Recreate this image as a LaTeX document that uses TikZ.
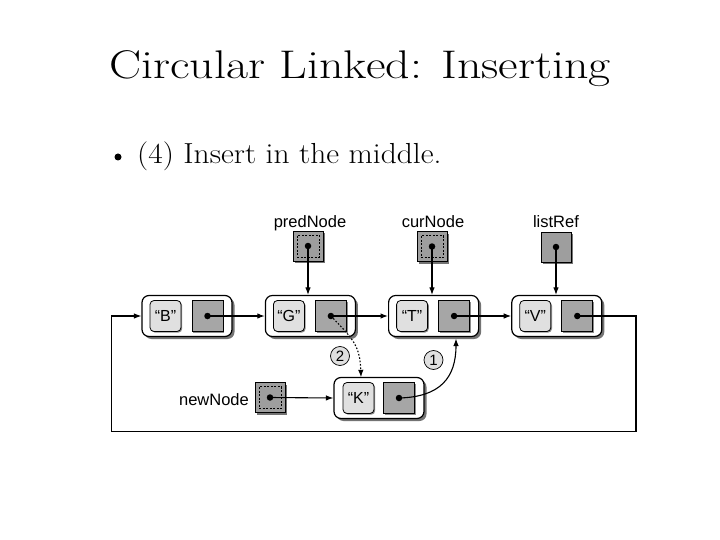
\documentclass[tikz,border=0pt]{standalone}
\usepackage{fontspec}
\newfontfamily\lsans{Liberation Sans}
\usetikzlibrary{shadows,arrows.meta}
\begin{document}
\begin{tikzpicture}[x=1pt,y=-1pt,
  outer/.style={draw=black, line width=1.2pt, fill=white, rounded corners=7pt,
    minimum width=90pt, minimum height=41pt, inner sep=0pt,
    drop shadow={shadow xshift=2.5pt, shadow yshift=-2.5pt, fill=black!55, opacity=1}},
  lbl/.style={draw=black, line width=0.8pt, fill=black!12, rounded corners=4pt,
    minimum size=31pt, inner sep=0pt, font=\lsans\fontsize{16}{16}\selectfont,
    drop shadow={shadow xshift=1.2pt, shadow yshift=-1.2pt, fill=black!45, opacity=1}},
  ptr/.style={draw=black, line width=0.8pt, fill=black!35,
    minimum size=31pt, inner sep=0pt,
    drop shadow={shadow xshift=1.2pt, shadow yshift=-1.2pt, fill=black!45, opacity=1}},
  var/.style={draw=black, line width=0.6pt, fill=black!38,
    minimum size=30pt, inner sep=0pt,
    drop shadow={shadow xshift=2pt, shadow yshift=-2pt, fill=black!55, opacity=1}},
  varin/.style={draw=black, line width=0.6pt, dash pattern=on 2pt off 1.5pt,
    minimum size=22pt, inner sep=0pt},
  dot/.style={circle, fill=black, inner sep=0pt, minimum size=6.5pt},
  vlab/.style={font=\lsans\fontsize{16.5}{16.5}\selectfont, inner sep=0pt},
  circ/.style={circle, draw=black, line width=0.7pt, fill=black!12, minimum size=19pt,
    inner sep=0pt, font=\lsans\fontsize{15}{15}\selectfont},
  conn/.style={line width=1.1pt, -{Latex[length=7.5pt,width=5.5pt]}},
  ]
\useasboundingbox (0,0) rectangle (720,540);

% title and bullet
\node[anchor=base, inner sep=0pt, font=\fontsize{40}{48}\selectfont] (title) at (360,78.3) {\scalebox{1.2}[1]{Circular Linked: Inserting}};
\node[circle, fill=black, inner sep=0pt, minimum size=7pt] (bul) at (118,157) {};
\node[anchor=base west, inner sep=0pt, font=\fontsize{29}{34}\selectfont] (bt) at (137,163.3) {\scalebox{1.085}[1]{(4) Insert in the middle.}};

% list nodes
\node[outer] (b) at (187,316) {};
\node[lbl] (bl) at (165.5,316) {“B”};
\node[ptr] (bp) at (207.5,316) {};
\node[dot] (bd) at (bp) {};

\node[outer] (g) at (310.4,316) {};
\node[lbl] (gl) at (288.9,316) {“G”};
\node[ptr] (gp) at (330.9,316) {};
\node[dot] (gd) at (gp) {};

\node[outer] (t) at (433.6,316) {};
\node[lbl] (tl) at (412.1,316) {“T”};
\node[ptr] (tp) at (454.1,316) {};
\node[dot] (td) at (tp) {};

\node[outer] (v) at (556.8,316) {};
\node[lbl] (vl) at (535.3,316) {“V”};
\node[ptr] (vp) at (577.3,316) {};
\node[dot] (vd) at (vp) {};

\node[outer] (k) at (379,398) {};
\node[lbl] (kl) at (358.5,398) {“K”};
\node[ptr] (kp) at (399,398) {};
\node[dot] (kd) at (kp) {};

% reference variables
\node[var] (p) at (308,246) {};
\node[varin] (pin) at (p) {};
\node[dot] (pd) at (p) {};
\node[vlab, anchor=base] (pt) at (310,228) {predNode};

\node[var] (c) at (432,246.5) {};
\node[varin] (cin) at (c) {};
\node[dot] (cd) at (c) {};
\node[vlab, anchor=base] (ct) at (433,228) {curNode};

\node[var] (l) at (556,247) {};
\node[dot] (ld) at (l) {};
\node[vlab, anchor=base] (lt) at (556,228) {listRef};

\node[var] (n) at (270,397.5) {};
\node[varin] (nin) at (n) {};
\node[dot] (nd) at (n) {};
\node[vlab, anchor=base east] (ntx) at (249,405) {newNode};

% connectors
\draw[conn] (bd.center) -- (g.west);
\draw[conn] (gd.center) -- (t.west);
\draw[conn] (td.center) -- (v.west);
\coordinate (rt) at (636,431.7);
\coordinate (lf) at (111.7,431.7);
\draw[conn] (vd.center) -| (rt) -- (lf) |- (b.west);

\draw[conn] (pd.center) -- (pd.center |- g.north);
\draw[conn] (cd.center) -- (cd.center |- t.north);
\draw[conn] (ld.center) -- (ld.center |- v.north);
\draw[conn] (nd.center) -- (k.west);

\coordinate (kin) at (361,377.3);
\draw[conn, dash pattern=on 1.6pt off 1.8pt] (gd.center) .. controls (352,338) and (360,345) .. (kin);
\coordinate (tin) at (456,338.5);
\draw[conn] (kd.center) .. controls (440,397) and (456,378) .. (tin);

\node[circ] (c2) at (340,356) {2};
\node[circ] (c1) at (433.5,360) {1};
\end{tikzpicture}
\end{document}
